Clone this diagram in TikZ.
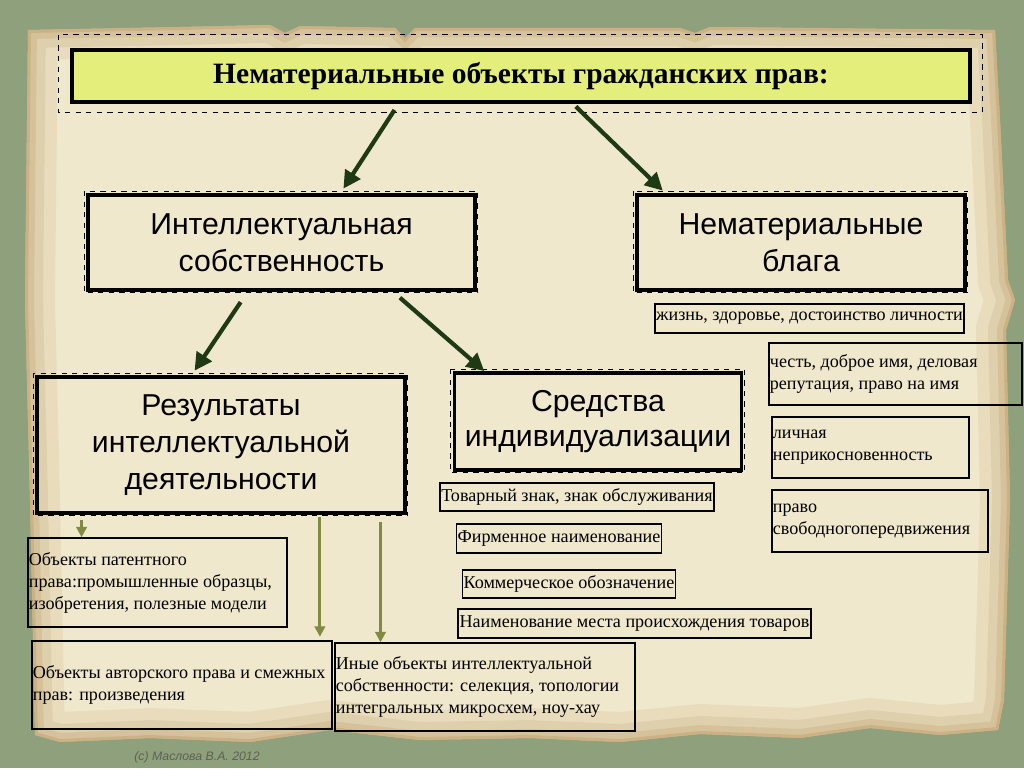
\documentclass[tikz,border=0pt]{standalone}
\usepackage{fontspec}
\setmainfont{Liberation Serif}
\setsansfont{Liberation Sans}
\usepackage{xcolor}
\usepackage{tikz}
\usetikzlibrary{arrows.meta,calc}

\definecolor{bggreen}{RGB}{143,161,124}
\definecolor{paperlight}{RGB}{240,232,204}
\definecolor{paperdark}{RGB}{178,140,82}
\definecolor{titleyellow}{RGB}{228,238,122}
\definecolor{arrowgreen}{RGB}{30,58,20}
\definecolor{arrowolive}{RGB}{128,138,64}
\definecolor{signgray}{RGB}{95,95,85}

\begin{document}
\begin{tikzpicture}[x=0.02cm,y=-0.02cm,semithick]
        \tikzstyle{titlebox}=[draw=black,line width=2.4pt,fill=titleyellow,
            font=\bfseries\fontsize{16.8}{19}\selectfont,minimum width=17.96cm,minimum height=1.04cm]
        \tikzstyle{bigbox}=[draw=black,line width=2.2pt,align=center,
            font=\sffamily\fontsize{17.2}{21}\selectfont]
        \tikzstyle{smallbox}=[draw=black,line width=0.8pt,align=flush left,inner sep=0.5pt,
            font=\fontsize{10.3}{12.5}\selectfont]
        \tikzstyle{dashframe}=[draw=black,line width=0.5pt,dashed]
        \tikzstyle{bigarrow}=[-{Triangle[length=10pt,width=10pt]},draw=arrowgreen,line width=2.4pt]
        \tikzstyle{smallarrow}=[-{Triangle[length=6pt,width=6pt]},draw=arrowolive,line width=1.8pt]

        % background and paper
        \fill[bggreen] (0,0) rectangle (1024,768);
        \def\paperpath{(28,30) -- (180,27) -- (270,25) -- (285,33) -- (300,26) -- (395,28)
            -- (405,38) -- (415,28) -- (680,28) -- (695,33) -- (710,27) -- (995,30)
            -- (1000,120) -- (1008,280) -- (1015,300) -- (1006,330) -- (1010,500)
            -- (1004,700) -- (998,730) -- (940,735) -- (870,728) -- (800,738) -- (700,734)
            -- (620,742) -- (530,738) -- (420,740) -- (330,730) -- (250,742) -- (150,738)
            -- (60,742) -- (35,735) -- (30,500) -- (25,300) -- cycle}
        \fill[paperlight] \paperpath;
        \begin{scope}
            \clip \paperpath;
            \foreach \w/\o in {60/0.12,36/0.15,18/0.2,6/0.3}
                \draw[paperdark,line width=\w*0.02cm,opacity=\o] \paperpath;
        \end{scope}

        % main boxes
        \node[titlebox] (title) at (521,76) {Нематериальные объекты гражданских прав:};
        \node[bigbox,minimum width=7.74cm,minimum height=1.9cm] (ip) at (281.5,242.5)
            {Интеллектуальная\\собственность};
        \node[bigbox,minimum width=6.56cm,minimum height=1.9cm] (nb) at (801,242.5)
            {Нематериальные\\блага};
        \node[bigbox,minimum width=7.36cm,minimum height=2.72cm] (rid) at (221,445)
            {Результаты\\интеллектуальной\\деятельности};
        \node[bigbox,minimum width=5.74cm,minimum height=1.94cm,
            font=\sffamily\fontsize{17.2}{19.5}\selectfont] (si) at (598,421.5)
            {Средства\\индивидуализации};

        \draw[dashframe] ([shift={(-12,-13)}]title.north west) rectangle ([shift={(10,8)}]title.south east);
        \foreach \n in {ip,nb,rid,si}
            \draw[dashframe] ([shift={(-2,-2)}]\n.north west) rectangle ([shift={(1,1)}]\n.south east);

        % small boxes
        \node[smallbox,minimum width=6.18cm,minimum height=0.58cm] (life) at (809.5,318.5)
            {жизнь, здоровье, достоинство личности};
        \node[smallbox,text width=5.06cm-1pt,minimum height=1.24cm] (honor) at (895.5,374)
            {честь, доброе имя, деловая\\репутация, право на имя};
        \node[smallbox,text width=3.94cm-1pt,minimum height=1.22cm] (privacy) at (870.5,447.5)
            {личная\\неприкосновенность};
        \node[smallbox,text width=4.32cm-1pt,minimum height=1.24cm] (movement) at (880,521)
            {право\\свободногопередвижения};
        \node[smallbox,minimum width=5.48cm,minimum height=0.56cm] (trademark) at (577,497)
            {Товарный знак, знак обслуживания};
        \node[smallbox,minimum width=4.09cm,minimum height=0.58cm] (firmname) at (559,538.5)
            {Фирменное наименование};
        \node[smallbox,minimum width=4.27cm,minimum height=0.56cm] (commercial) at (569,584)
            {Коммерческое обозначение};
        \node[smallbox,minimum width=7.06cm,minimum height=0.58cm] (origin) at (634.5,623.5)
            {Наименование места происхождения товаров};
        \node[smallbox,text width=5.18cm-1pt,minimum height=1.78cm] (patent) at (157.5,582.5)
            {Объекты патентного\\права:промышленные образцы,\\изобретения, полезные модели};
        \node[smallbox,text width=6cm-1pt,minimum height=1.76cm] (author) at (182,685)
            {Объекты авторского права и смежных\\прав: произведения};
        \node[smallbox,text width=6cm-1pt,minimum height=1.76cm] (other) at (485,687)
            {Иные объекты интеллектуальной\\собственности: селекция, топологии\\интегральных микросхем, ноу-хау};

        % arrows
        \draw[bigarrow,shorten <=4pt,shorten >=3pt] ($(title.south west)!0.364!(title.south east)$)
            -- ($(ip.north west)!0.651!(ip.north east)$);
        \draw[bigarrow,shorten <=2pt,shorten >=2pt] ($(title.south west)!0.558!(title.south east)$)
            -- ($(nb.north west)!0.091!(nb.north east)$);
        \draw[bigarrow,shorten <=7pt,shorten >=3pt] ($(ip.south west)!0.413!(ip.south east)$)
            -- ($(rid.north west)!0.421!(rid.north east)$);
        \draw[bigarrow,shorten <=5pt] ($(ip.south west)!0.786!(ip.south east)$)
            -- ($(si.north west)!0.109!(si.north east)$);

        \coordinate (o1) at ($(rid.south west)!0.125!(rid.south east)$);
        \coordinate (o2) at ($(rid.south west)!0.766!(rid.south east)$);
        \coordinate (o3) at ($(rid.south west)!0.929!(rid.south east)$);
        \draw[smallarrow,shorten <=3pt] (o1) -- (o1 |- patent.north);
        \draw[smallarrow,shorten <=1pt,shorten >=2pt] (o2) -- (o2 |- author.north);
        \draw[smallarrow,shorten <=4pt] (o3) -- (o3 |- other.north);

        \node[font=\sffamily\itshape\fontsize{7}{9}\selectfont,text=signgray] (sign) at (197,757)
            {(c) Маслова В.А. 2012};
\end{tikzpicture}
\end{document}
